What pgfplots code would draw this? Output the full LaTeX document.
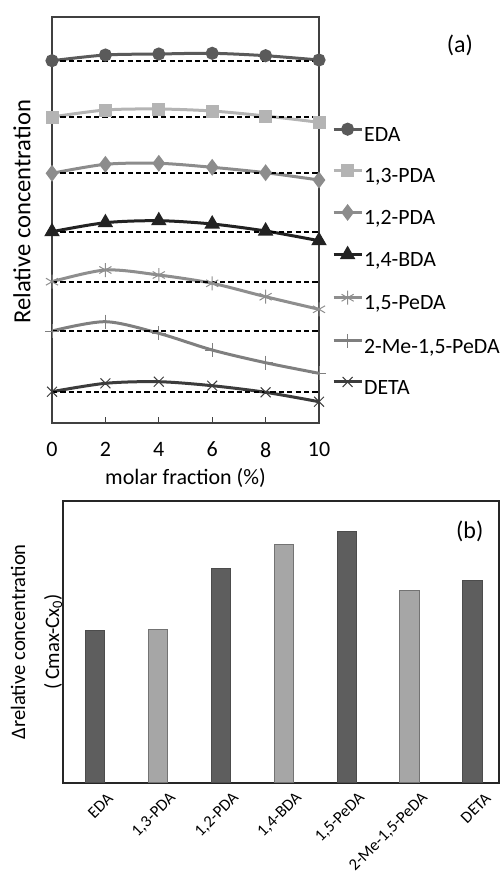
\documentclass[border=0pt]{standalone}
\usepackage{fontspec}
\setmainfont{Carlito}
\usepackage{pgfplots}
\pgfplotsset{compat=1.18}

\definecolor{cEDA}{HTML}{5A5A5A}
\definecolor{cPDAa}{HTML}{B4B4B4}
\definecolor{cPDAb}{HTML}{8C8C8C}
\definecolor{cBDA}{HTML}{222222}
\definecolor{cPeDA}{HTML}{8E8E8E}
\definecolor{cMe}{HTML}{7F7F7F}
\definecolor{cDETA}{HTML}{3C3C3C}
\definecolor{barD}{HTML}{5E5E5E}
\definecolor{barL}{HTML}{A6A6A6}

\pgfplotsset{
  base/.style={black, line width=1pt, dash pattern=on 2.6pt off 1.6pt, forget plot},
}

\begin{document}
\begin{tikzpicture}
\useasboundingbox (0,0) rectangle (250pt,-436.5pt);

% (a) relative concentration vs molar fraction
\begin{axis}[
  at={(26pt,-211.5pt)}, anchor=south west, scale only axis,
  width=133.5pt, height=203pt,
  xmin=0, xmax=10, ymin=0, ymax=406,
  xtick={0,2,...,10}, ytick=\empty, xtick pos=bottom,
  tick align=inside, major tick length=3pt,
  axis line style={black!75, line width=0.8pt},
  tick style={black!75, line width=0.6pt},
  /pgf/number format/assume math mode=true,
  tick label style={font=\fontsize{11}{12}\selectfont},
  xticklabel style={yshift=-6pt},
  xlabel={molar fraction (\%)},
  xlabel style={at={(axis description cs:0.5,-0.1355)}, anchor=center, font=\fontsize{11}{12}\selectfont},
  ylabel={Relative concentration},
  ylabel style={at={(axis description cs:-0.1124,0.52)}, anchor=center, font=\fontsize{12.3}{13}\selectfont},
  clip=false,
  legend style={draw=none, fill=none, at={(rel axis cs:1.0476,0.737)}, anchor=north west,
    inner sep=0pt, row sep=10pt, font=\fontsize{10.9}{12}\selectfont,
    nodes={inner sep=0.5pt}},
  legend cell align=left,
  legend image code/.code={\draw[mark repeat=2, mark phase=2, #1] plot coordinates {(0pt,3.3pt) (7pt,3.3pt) (14pt,3.3pt)};},
]
\addplot[cEDA, line width=1.5pt, smooth, mark=*, mark size=2.5pt, mark options={fill=cEDA}]
  coordinates {(0,362.3) (2,368) (4,369) (6,369.7) (8,367.3) (10,363)};
\addlegendentry{EDA}
\addplot[cPDAa, line width=1.5pt, smooth, mark=square*, mark size=2.5pt, mark options={fill=cPDAa}]
  coordinates {(0,306) (2,313) (4,314) (6,312) (8,307) (10,300.7)};
\addlegendentry{1,3-PDA}
\addplot[cPDAb, line width=1.5pt, smooth, mark=diamond*, mark size=3pt, mark options={fill=cPDAb}]
  coordinates {(0,249.7) (2,258.7) (4,259.7) (6,255.7) (8,250.3) (10,243)};
\addlegendentry{1,2-PDA}
\addplot[cBDA, line width=1.5pt, smooth, mark=triangle*, mark size=3pt, mark options={fill=cBDA}]
  coordinates {(0,191.3) (2,200.3) (4,202.3) (6,199) (8,192) (10,182.3)};
\addlegendentry{1,4-BDA}
\addplot[cPeDA, line width=1.5pt, smooth, mark=asterisk, mark size=3.5pt, mark options={line width=0.5pt}]
  coordinates {(0,141.3) (2,153) (4,148) (6,139.7) (8,126.3) (10,113.7)};
\addlegendentry{1,5-PeDA}
\addplot[cMe, line width=1.5pt, smooth, mark=+, mark size=3.5pt, mark options={line width=0.5pt}]
  coordinates {(0,92) (2,101.3) (4,89.7) (6,73) (8,60.3) (10,49.7)};
\addlegendentry{2-Me-1,5-PeDA}
\addplot[cDETA, line width=1.5pt, smooth, mark=x, mark size=3.5pt, mark options={line width=0.5pt}]
  coordinates {(0,31.3) (2,39.7) (4,41.3) (6,37.3) (8,30.7) (10,21.3)};
\addlegendentry{DETA}
% baselines at x = 0
\addplot[base] coordinates {(0,362.3) (10,362.3)};
\addplot[base] coordinates {(0,306) (10,306)};
\addplot[base] coordinates {(0,249.7) (10,249.7)};
\addplot[base] coordinates {(0,191.3) (10,191.3)};
\addplot[base] coordinates {(0,141.3) (10,141.3)};
\addplot[base] coordinates {(0,92) (10,92)};
\addplot[base] coordinates {(0,31.3) (10,31.3)};
\node[font=\fontsize{12}{13}\selectfont] at (rel axis cs:1.528,0.931) {(a)};
\end{axis}

% (b) delta relative concentration
\begin{axis}[
  at={(31.5pt,-391.35pt)}, anchor=south west, scale only axis,
  width=218pt, height=141pt,
  xmin=-0.508, xmax=6.418, ymin=0, ymax=282,
  ytick=\empty, xtick={0,...,6},
  xticklabels={EDA,{1,3-PDA},{1,2-PDA},{1,4-BDA},{1,5-PeDA},{2-Me-1,5-PeDA},DETA},
  major tick length=0pt,
  axis line style={black!85, line width=0.8pt},
  xticklabel style={rotate=45, anchor=east, inner sep=0pt, yshift=-10pt, xshift=1pt,
    font=\fontsize{8.3}{10}\selectfont},
  ylabel={Δrelative concentration\\[5pt](\,Cmax-Cx\textsubscript{0})},
  ylabel style={at={(axis description cs:-0.0608,0.5)}, anchor=center, align=center,
    font=\fontsize{10.3}{12}\selectfont},
  ybar, bar width=9.75pt, clip=false,
]
\addplot[bar shift=0pt, fill=barD, draw=black!70, line width=0.5pt]
  coordinates {(0,152) (2,214.4) (4,251) (6,202.4)};
\addplot[bar shift=0pt, fill=barL, draw=black!55, line width=0.5pt]
  coordinates {(1,153.7) (3,238) (5,192.7)};
\node[font=\fontsize{12}{13}\selectfont] at (rel axis cs:0.933,0.89) {(b)};
\end{axis}
\end{tikzpicture}
\end{document}
